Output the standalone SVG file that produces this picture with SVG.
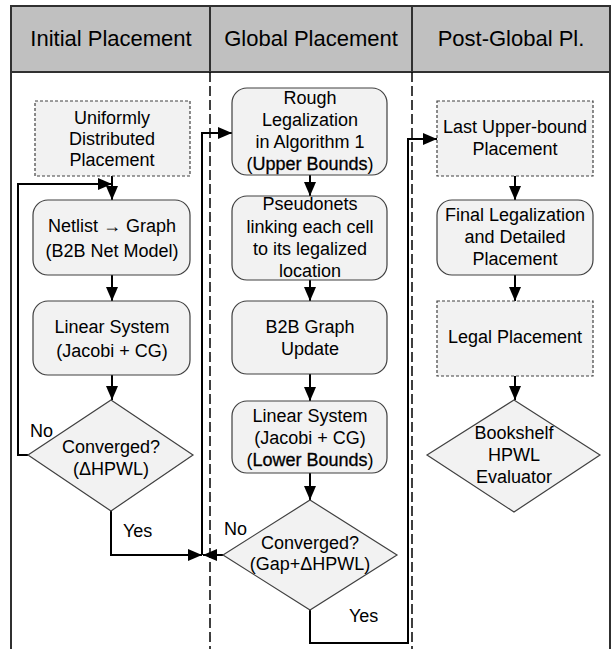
<svg xmlns="http://www.w3.org/2000/svg" width="613" height="649" viewBox="0 0 613 649">
<style>
text{font-family:"Liberation Sans",Arial,sans-serif;fill:#000;text-anchor:middle}
.h{font-size:22px}
.t{font-size:18px}
.lbl{font-size:18px;text-anchor:start}
.em{stroke:#000;stroke-width:0.3}
.box{fill:#f2f2f2;stroke:#404040;stroke-width:1.2}
.dbox{fill:#f2f2f2;stroke:#404040;stroke-width:1.2;stroke-dasharray:3 2}
.frame{fill:none;stroke:#303030;stroke-width:2}
.div{fill:none;stroke:#000;stroke-width:1.5;stroke-dasharray:10 4}
.c{fill:none;stroke:#000;stroke-width:2}
</style>
<defs>
<marker id="ah" markerUnits="userSpaceOnUse" markerWidth="14" markerHeight="12" refX="14" refY="6" orient="auto">
<path d="M0,0 L14,6 L0,12 z" fill="#000"/>
</marker>
</defs>
<g id="frame">
<rect x="11" y="6" width="599" height="66" fill="#c0c0c0"/>
<path class="frame" d="M11,649 V6 H610 V649 M11,72 H610 M210,6 V72 M412,6 V72"/>
<path class="div" d="M210,72 V649 M412,72 V649"/>
<text class="h" x="111" y="46">Initial Placement</text>
<text class="h" x="311" y="46">Global Placement</text>
<text class="h" x="511" y="46">Post-Global Pl.</text>
</g>
<g id="connectors">
<path class="c" d="M112,176 V200" marker-end="url(#ah)"/>
<path class="c" d="M112,275 V301" marker-end="url(#ah)"/>
<path class="c" d="M112,375 V400" marker-end="url(#ah)"/>
<path class="c" d="M28,455 H18 V184 H112" marker-end="url(#ah)"/>
<path class="c" d="M111,511 V555 H202" marker-end="url(#ah)"/>
<path class="c" d="M202,555 V133 H232" marker-end="url(#ah)"/>
<path class="c" d="M310,175 V196" marker-end="url(#ah)"/>
<path class="c" d="M310,280 V301" marker-end="url(#ah)"/>
<path class="c" d="M310,374 V401" marker-end="url(#ah)"/>
<path class="c" d="M310,473 V500" marker-end="url(#ah)"/>
<path class="c" d="M223,555 H203" marker-end="url(#ah)"/>
<path class="c" d="M310,610 V643 H408 V139 H437" marker-end="url(#ah)"/>
<path class="c" d="M515,176 V200" marker-end="url(#ah)"/>
<path class="c" d="M515,275 V301" marker-end="url(#ah)"/>
<path class="c" d="M515,376 V400" marker-end="url(#ah)"/>
<text class="lbl" x="30" y="437">No</text>
<text class="lbl" x="123" y="537">Yes</text>
<text class="lbl" x="224" y="535">No</text>
<text class="lbl" x="349" y="622">Yes</text>
</g>
<g id="uniform">
<rect class="dbox" x="35" y="101" width="155" height="75"/>
<text class="t" x="112" y="124">Uniformly</text>
<text class="t" x="112" y="145">Distributed</text>
<text class="t" x="112" y="166">Placement</text>
</g>
<g id="netlist">
<rect class="box" x="33" y="200" width="157" height="75" rx="15"/>
<text class="t" x="112" y="232">Netlist → Graph</text>
<text class="t" x="112" y="257">(B2B Net Model)</text>
</g>
<g id="linear1">
<rect class="box" x="33" y="301" width="157" height="74" rx="15"/>
<text class="t" x="112" y="333">Linear System</text>
<text class="t" x="112" y="357">(Jacobi + CG)</text>
</g>
<g id="conv1">
<polygon class="box" points="111,400 193,455 111,511 28,455"/>
<text class="t" x="111" y="453">Converged?</text>
<text class="t" x="111" y="475">(ΔHPWL)</text>
</g>
<g id="rough">
<rect class="box" x="232" y="88" width="155" height="87" rx="15"/>
<text class="t" x="310" y="104">Rough</text>
<text class="t" x="310" y="126">Legalization</text>
<text class="t" x="310" y="148">in Algorithm 1</text>
<text class="t" x="310" y="170">(<tspan class="em">Upper Bounds</tspan>)</text>
</g>
<g id="pseudonets">
<rect class="box" x="232" y="196" width="155" height="84" rx="15"/>
<text class="t" x="310" y="210">Pseudonets</text>
<text class="t" x="310" y="233">linking each cell</text>
<text class="t" x="310" y="255">to its legalized</text>
<text class="t" x="310" y="277">location</text>
</g>
<g id="b2b">
<rect class="box" x="232" y="301" width="155" height="73" rx="15"/>
<text class="t" x="310" y="333">B2B Graph</text>
<text class="t" x="310" y="355">Update</text>
</g>
<g id="linear2">
<rect class="box" x="232" y="401" width="155" height="72" rx="15"/>
<text class="t" x="310" y="422">Linear System</text>
<text class="t" x="310" y="444">(Jacobi + CG)</text>
<text class="t" x="310" y="466">(<tspan class="em">Lower Bounds</tspan>)</text>
</g>
<g id="conv2">
<polygon class="box" points="310,500 397,555 310,610 223,555"/>
<text class="t" x="310" y="549">Converged?</text>
<text class="t" x="310" y="570">(Gap+ΔHPWL)</text>
</g>
<g id="lastupper">
<rect class="dbox" x="437" y="101" width="156" height="75"/>
<text class="t" x="515" y="133">Last Upper-bound</text>
<text class="t" x="515" y="155">Placement</text>
</g>
<g id="final">
<rect class="box" x="437" y="200" width="156" height="75" rx="15"/>
<text class="t" x="515" y="221">Final Legalization</text>
<text class="t" x="515" y="243">and Detailed</text>
<text class="t" x="515" y="265">Placement</text>
</g>
<g id="legal">
<rect class="dbox" x="437" y="301" width="156" height="75"/>
<text class="t" x="515" y="343">Legal Placement</text>
</g>
<g id="bookshelf">
<polygon class="box" points="514,400 600,455 514,512 427,455"/>
<text class="t" x="514" y="439">Bookshelf</text>
<text class="t" x="514" y="461">HPWL</text>
<text class="t" x="514" y="483">Evaluator</text>
</g>
</svg>
